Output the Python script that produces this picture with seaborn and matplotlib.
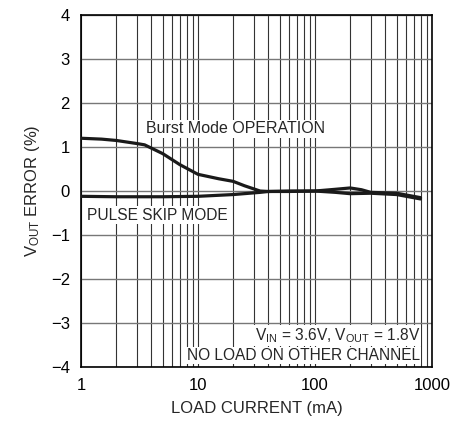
import numpy as np
import pandas as pd
import seaborn as sns
from matplotlib import pyplot as plt
from matplotlib.ticker import FixedLocator, NullFormatter

# burst mode curve (load current mA, error %)
burst_x = [1, 1.5, 2, 3, 3.5, 5, 7, 10, 15, 20, 25, 34, 40, 60, 100, 150, 200, 250, 300, 500, 800]
burst_y = [1.2, 1.18, 1.15, 1.08, 1.05, 0.85, 0.6, 0.38, 0.28, 0.22, 0.12, 0.0, -0.01, -0.01, 0.0, 0.04, 0.07, 0.03, -0.03, -0.05, -0.15]

# pulse skip curve
skip_x = [1, 2, 5, 10, 20, 34, 40, 60, 100, 150, 200, 300, 500, 800]
skip_y = [-0.12, -0.13, -0.13, -0.12, -0.08, -0.03, -0.01, 0.0, 0.0, -0.03, -0.06, -0.05, -0.08, -0.18]

x_ticks = [1, 10, 100, 1000]
y_ticks = [-4, -3, -2, -1, 0, 1, 2, 3, 4]

sns.set_style('white')
plt.rcParams['font.family'] = ['Liberation Sans', 'DejaVu Sans']
plt.rcParams['mathtext.default'] = 'regular'
plt.rcParams['mathtext.fontset'] = 'custom'
plt.rcParams['mathtext.rm'] = 'Liberation Sans'

fig = plt.figure(figsize=(4.51, 4.25), dpi=100)
ax = fig.add_axes([0.1796, 0.1365, 0.778, 0.828])

burst = pd.DataFrame({'x': burst_x, 'y': burst_y})
skip = pd.DataFrame({'x': skip_x, 'y': skip_y})
sns.lineplot(x='x', y='y', data=burst, ax=ax, color='#1a1a1a', lw=2.3, zorder=5)
sns.lineplot(x='x', y='y', data=skip, ax=ax, color='#1a1a1a', lw=2.3, zorder=5)

ax.set_xscale('log')
ax.set_xlim(1, 1000)
ax.set_ylim(-4, 4)
ax.xaxis.set_major_locator(FixedLocator(x_ticks))
ax.set_xticklabels([str(t) for t in x_ticks])
minor = [m * d for d in [1, 10, 100] for m in range(2, 10)]
ax.xaxis.set_minor_locator(FixedLocator(minor))
ax.xaxis.set_minor_formatter(NullFormatter())
ax.set_yticks(y_ticks)
ax.set_yticklabels(['\u2212' + str(-t) if t < 0 else str(t) for t in y_ticks])

ax.grid(True, which='both', axis='x', color='#333333', lw=0.8)
ax.grid(True, which='major', axis='y', color='#777777', lw=1.0)
ax.tick_params(length=0, labelsize=12, colors='black', pad=8)
for s in ax.spines.values():
    s.set_color('black')
    s.set_linewidth(1.2)

ax.set_xlabel('LOAD CURRENT (mA)', fontsize=12, labelpad=6)
ax.set_ylabel('V$_{OUT}$ ERROR (%)', fontsize=12, labelpad=6)

box = dict(facecolor='white', edgecolor='none', pad=1)
ax.text(3.6, 1.42, 'Burst Mode OPERATION', fontsize=11.5, bbox=box, zorder=6, va='center')
ax.text(1.12, -0.55, 'PULSE SKIP MODE', fontsize=11.2, bbox=box, zorder=6, va='center')
ax.text(790, -3.28, 'V$_{IN}$ = 3.6V, V$_{OUT}$ = 1.8V', fontsize=11.2, bbox=box, zorder=6,
        ha='right', va='center')
ax.text(790, -3.74, 'NO LOAD ON OTHER CHANNEL', fontsize=11.2, bbox=box, zorder=6,
        ha='right', va='center')

fig.savefig('out.png', dpi=100)
